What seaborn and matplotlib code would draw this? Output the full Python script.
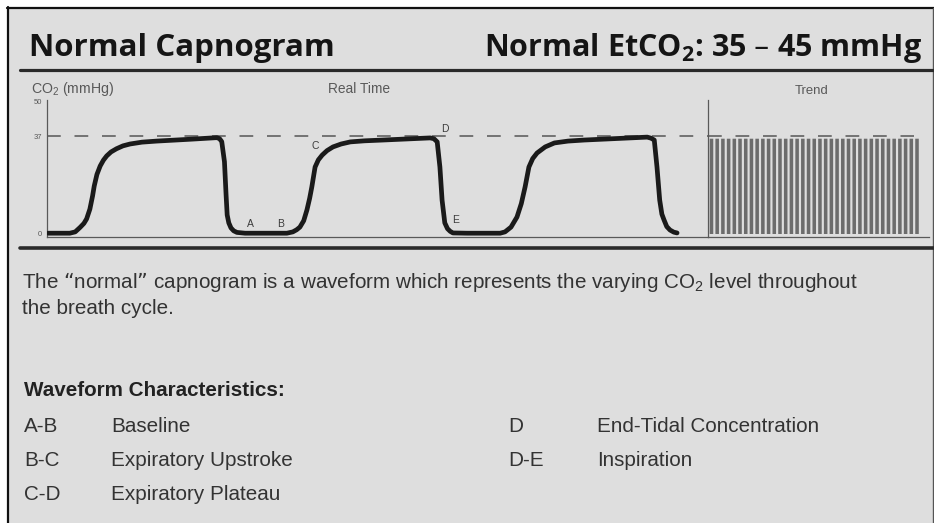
import matplotlib.pyplot as plt
import matplotlib.patches as patches
import seaborn as sns

# Constants
FIG_W = 934
FIG_H = 523
DPI = 100
BG_COLOR = "#dedede"
WAVE_COLOR = "#1a1a1a"
TEXT_COLOR = "#333333"
AXIS_COLOR = "#595959"
TREND_COLOR = "#6c6c6c"
TITLE_FONT = "Open Sans"
BODY_FONT = ["Liberation Sans", "DejaVu Sans"]

# real-time CO2 waveform, time in s, CO2 in mmHg
wave_time = [0.02, 0.42, 0.52, 0.61, 0.68, 0.73, 0.79, 0.84, 0.87, 0.92,
             0.98, 1.04, 1.10, 1.18, 1.28, 1.40, 1.53, 1.75, 2.02, 2.64,
             3.13, 3.18, 3.22, 3.27, 3.30, 3.32, 3.35, 3.39, 3.44, 3.50,
             3.65,
             4.42, 4.53, 4.60, 4.66, 4.73, 4.79, 4.84, 4.88, 4.94, 5.00,
             5.07, 5.16, 5.27, 5.42, 5.59, 5.85, 6.19, 7.06, 7.13, 7.19,
             7.24, 7.28, 7.33, 7.38, 7.43, 7.48, 7.74,
             8.35, 8.44, 8.55, 8.66, 8.74, 8.81, 8.88, 8.95, 9.03, 9.18,
             9.35, 9.60, 9.90, 11.06, 11.13, 11.19, 11.24, 11.29, 11.33, 11.37,
             11.42, 11.48, 11.55, 11.61]
wave_co2 = [0.3, 0.3, 0.8, 2.5, 4.0, 5.7, 9.4, 14.4, 18.1, 22.5,
            25.7, 27.9, 29.5, 31.0, 32.2, 33.3, 34.0, 34.7, 35.1, 35.8,
            36.4, 36.0, 34.9, 27.3, 14.7, 7.2, 4.2, 2.3, 1.2, 0.6,
            0.3,
            0.3, 0.8, 1.6, 2.6, 5.0, 9.1, 13.5, 17.8, 25.3, 28.0,
            29.8, 31.5, 32.9, 34.0, 34.8, 35.2, 35.5, 36.3, 36.0, 34.8,
            25.3, 12.8, 4.2, 2.0, 1.0, 0.4, 0.3,
            0.3, 0.8, 2.6, 6.4, 11.5, 17.8, 25.3, 28.5, 30.6, 32.9,
            34.4, 35.1, 35.5, 36.6, 36.2, 35.5, 25.3, 12.8, 7.5, 5.3,
            2.8, 1.5, 0.7, 0.4]

# trend: one spike per breath
trend_breath = list(range(1, 38))
trend_co2 = [36.0, 36.0, 36.0, 36.0, 36.0, 36.0, 36.0, 36.0, 36.0, 36.0,
             36.0, 36.0, 36.0, 36.0, 36.0, 36.0, 36.0, 36.0, 36.0, 36.0,
             36.0, 36.0, 36.0, 36.0, 36.0, 36.0, 36.0, 36.0, 36.0, 36.0,
             36.0, 36.0, 36.0, 36.0, 36.0, 36.0, 36.0]

y_ticks = [0, 37, 50]
etco2_line = 37

point_labels = ["A", "B", "C", "D", "E"]
point_time = [3.74, 4.31, 4.94, 7.34, 7.52]
point_co2 = [3.8, 3.8, 33.2, 39.7, 5.3]

legend_codes = ["A-B", "B-C", "C-D", "D", "D-E"]
legend_names = ["Baseline", "Expiratory Upstroke", "Expiratory Plateau",
                "End-Tidal Concentration", "Inspiration"]
legend_column = [0, 0, 0, 1, 1]
legend_row = [0, 1, 2, 0, 1]


def fit_width(txt, target_px, renderer):
    width = txt.get_window_extent(renderer).width
    txt.set_fontsize(txt.get_fontsize() * target_px / width)
    return txt.get_fontsize()


sns.set_style("white")
plt.rcParams["font.family"] = BODY_FONT
plt.rcParams["mathtext.default"] = "regular"

fig = plt.figure(figsize=(FIG_W / DPI, FIG_H / DPI), dpi=DPI, facecolor="white")
renderer = fig.canvas.get_renderer()

# page in pixel coordinates
page = fig.add_axes([0, 0, 1, 1])
page.set_xlim(0, FIG_W)
page.set_ylim(FIG_H, 0)
page.axis("off")
page.add_patch(patches.Rectangle((7, 7), FIG_W - 7, FIG_H - 7, facecolor=BG_COLOR, edgecolor="none"))
page.plot([7, FIG_W], [8, 8], color="#111111", lw=1.6)
page.plot([8, 8], [7, FIG_H], color="#111111", lw=1.6)
page.plot([933, 933], [8, FIG_H], color="#555555", lw=1.0)
page.plot([20, 933], [70, 70], color="#2a2a2a", lw=2.3)
page.plot([20, FIG_W], [248, 248], color="#2a2a2a", lw=2.6)

t1 = page.text(29, 56, "Normal Capnogram", family=TITLE_FONT, weight="bold",
               fontsize=22, color="#151515", va="baseline")
fit_width(t1, 304, renderer)
t2 = page.text(922, 56, "Normal EtCO$_2$: 35 – 45 mmHg", family=TITLE_FONT, weight="bold",
               fontsize=22, color="#151515", va="baseline", ha="right")
fit_width(t2, 438, renderer)

lab1 = page.text(31, 89, "CO$_2$ (mmHg)", fontsize=8, color=AXIS_COLOR, va="center")
fit_width(lab1, 84, renderer)
lab2 = page.text(359, 89, "Real Time", fontsize=8, color=AXIS_COLOR, va="center", ha="center")
fit_width(lab2, 62, renderer)
lab3 = page.text(812, 91, "Trend", fontsize=8, color=AXIS_COLOR, va="center", ha="center")
fit_width(lab3, 34, renderer)

body1 = page.text(22, 282, "The “normal” capnogram is a waveform which represents the varying CO$_2$ level throughout",
                  fontsize=12.5, color=TEXT_COLOR, va="center")
body_size = fit_width(body1, 835, renderer)
page.text(22, 309, "the breath cycle.", fontsize=body_size, color=TEXT_COLOR, va="center")
page.text(24, 391, "Waveform Characteristics:", fontsize=body_size, weight="bold",
          color="#222222", va="center")
code_x = [24, 508]
name_x = [111, 597]
row_y = [426, 461, 495]
for code, name, col, row in zip(legend_codes, legend_names, legend_column, legend_row):
    page.text(code_x[col], row_y[row], code, fontsize=body_size, color=TEXT_COLOR, va="center")
    page.text(name_x[col], row_y[row], name, fontsize=body_size, color=TEXT_COLOR, va="center")

# chart axes, placed in pixels
y_lo, y_hi = -1.0, 50.5
px_per_unit = 2.647
ax_bottom = 234 + 1.0 * px_per_unit
ax_height = (y_hi - y_lo) * px_per_unit

ax = fig.add_axes([47 / FIG_W, (FIG_H - ax_bottom) / FIG_H, (708 - 47) / FIG_W, ax_height / FIG_H])
ax_trend = fig.add_axes([708 / FIG_W, (FIG_H - ax_bottom) / FIG_H, (929 - 708) / FIG_W, ax_height / FIG_H])

for a in (ax, ax_trend):
    a.set_facecolor("none")
    sns.despine(ax=a)
    for side in ("left", "bottom"):
        a.spines[side].set_color(AXIS_COLOR)
        a.spines[side].set_linewidth(0.9)
    a.set_ylim(y_lo, y_hi)

ax.axhline(etco2_line, color="#555555", lw=1.1, dashes=(9, 9), zorder=1)
ax_trend.axhline(etco2_line, xmax=0.93, color="#555555", lw=1.1, dashes=(9, 9), zorder=1)

sns.lineplot(x=wave_time, y=wave_co2, ax=ax, color=WAVE_COLOR, lw=3.4, sort=False,
             solid_joinstyle="round", solid_capstyle="round", zorder=3)
ax.set_xlim(0, 12.18)
ax.set_ylim(y_lo, y_hi)
ax.set_xticks([])
ax.set_yticks(y_ticks)
ax.set_yticklabels([str(v) for v in y_ticks])
ax.tick_params(axis="y", labelsize=5.5, colors=AXIS_COLOR, length=3, width=0.8, direction="inout", pad=2)
for lab, tx, ty in zip(point_labels, point_time, point_co2):
    ax.text(tx, ty, lab, fontsize=7.5, color="#3c3c3c", ha="center", va="center")

sns.barplot(x=trend_breath, y=trend_co2, ax=ax_trend, color=TREND_COLOR, width=0.62,
            saturation=1, linewidth=0, zorder=2)
for bar in ax_trend.patches:
    bar.set_snap(False)
ax_trend.set_xlim(-0.61, 38.1)
ax_trend.set_ylim(y_lo, y_hi)
ax_trend.set_xticks([])
ax_trend.set_yticks([])
ax_trend.set_xlabel("")
ax_trend.set_ylabel("")

fig.savefig("out.png", dpi=DPI, facecolor="white")
